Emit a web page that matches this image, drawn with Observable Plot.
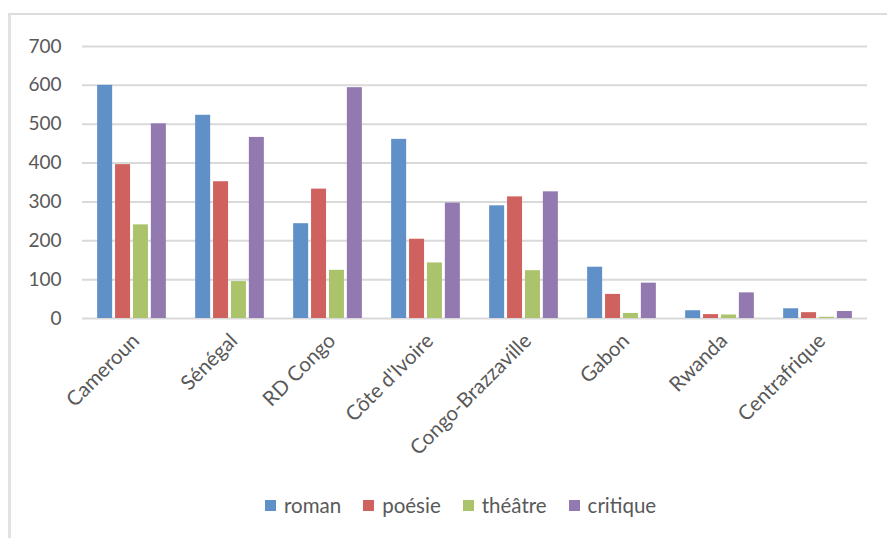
<!DOCTYPE html>
<html>
<head>
<meta charset="utf-8">
<script src="https://cdn.jsdelivr.net/npm/d3@7"></script>
<script src="https://cdn.jsdelivr.net/npm/@observablehq/plot@0.6"></script>
<style>
  html, body { margin: 0; padding: 0; background: #fff; }
  #wrap { position: relative; width: 887px; height: 538px; overflow: hidden; font-family: Lato, "Open Sans", sans-serif; }
  #frame { position: absolute; left: 8px; top: 13px; right: -10px; bottom: -10px; border-top: 2px solid #dcdcdc; border-left: 3px solid #e2e2e2; }
  #chart { position: absolute; left: 0; top: 0; }
  #legend { position: absolute; left: 265px; top: 493px; display: flex; align-items: center; font-size: 20.5px; color: #595959; }
  .item { display: flex; align-items: center; margin-right: 22px; }
  .sw { width: 11px; height: 11px; margin-right: 8px; }
</style>
</head>
<body>
<div id="wrap">
  <div id="frame"></div>
  <div id="chart"></div>
  <div id="legend"></div>
</div>
<script>
const countries = ["Cameroun", "Sénégal", "RD Congo", "Côte d'Ivoire", "Congo-Brazzaville", "Gabon", "Rwanda", "Centrafrique"];
const series = ["roman", "poésie", "théâtre", "critique"];
const roman    = [600, 523, 244, 461, 290, 132, 20, 25];
const poesie   = [396, 352, 333, 204, 313, 62, 10, 15];
const theatre  = [241, 95, 124, 143, 123, 13, 9, 3];
const critique = [501, 466, 594, 297, 326, 91, 66, 18];
const yTicks = [0, 100, 200, 300, 400, 500, 600, 700];
const colors = ["#6090c8", "#cf625e", "#abc36a", "#9279b0"];

const valuesBySeries = [roman, poesie, theatre, critique];
const rows = series.map((s, i) => countries.map((c, j) => ({country: c, series: s, value: valuesBySeries[i][j]})));

const step = 17.9;
const barMarks = rows.map((data, i) => Plot.barY(data, {
  x: "country", y: "value", fill: "series", dx: (i - 1.5) * step
}));

const chart = Plot.plot({
  width: 887,
  height: 480,
  marginLeft: 82,
  marginRight: 20,
  marginTop: 46,
  marginBottom: 162,
  style: {fontFamily: "Lato, 'Open Sans', sans-serif", fontSize: "19px", color: "#595959", background: "transparent"},
  x: {domain: countries, paddingInner: 0.847, paddingOuter: 0.4235, label: null, tickSize: 0, tickPadding: 12, tickRotate: -45},
  y: {domain: [0, 700], ticks: yTicks, label: null, tickSize: 0, tickPadding: 21},
  color: {domain: series, range: colors},
  marks: [
    Plot.ruleY(yTicks, {stroke: "#d9d9d9", strokeWidth: 2}),
    ...barMarks,
    Plot.axisY({ticks: yTicks, tickSize: 0, tickPadding: 21, label: null}),
    Plot.axisX({tickSize: 0, tickPadding: 19, tickRotate: -45, label: null, fontSize: 20.5, dx: 4})
  ]
});
document.getElementById("chart").appendChild(chart);

const legend = document.getElementById("legend");
series.forEach((s, i) => {
  const it = document.createElement("div");
  it.className = "item";
  const sw = document.createElement("span");
  sw.className = "sw";
  sw.style.background = colors[i];
  const t = document.createElement("span");
  t.textContent = s;
  it.appendChild(sw); it.appendChild(t);
  legend.appendChild(it);
});
</script>
</body>
</html>
